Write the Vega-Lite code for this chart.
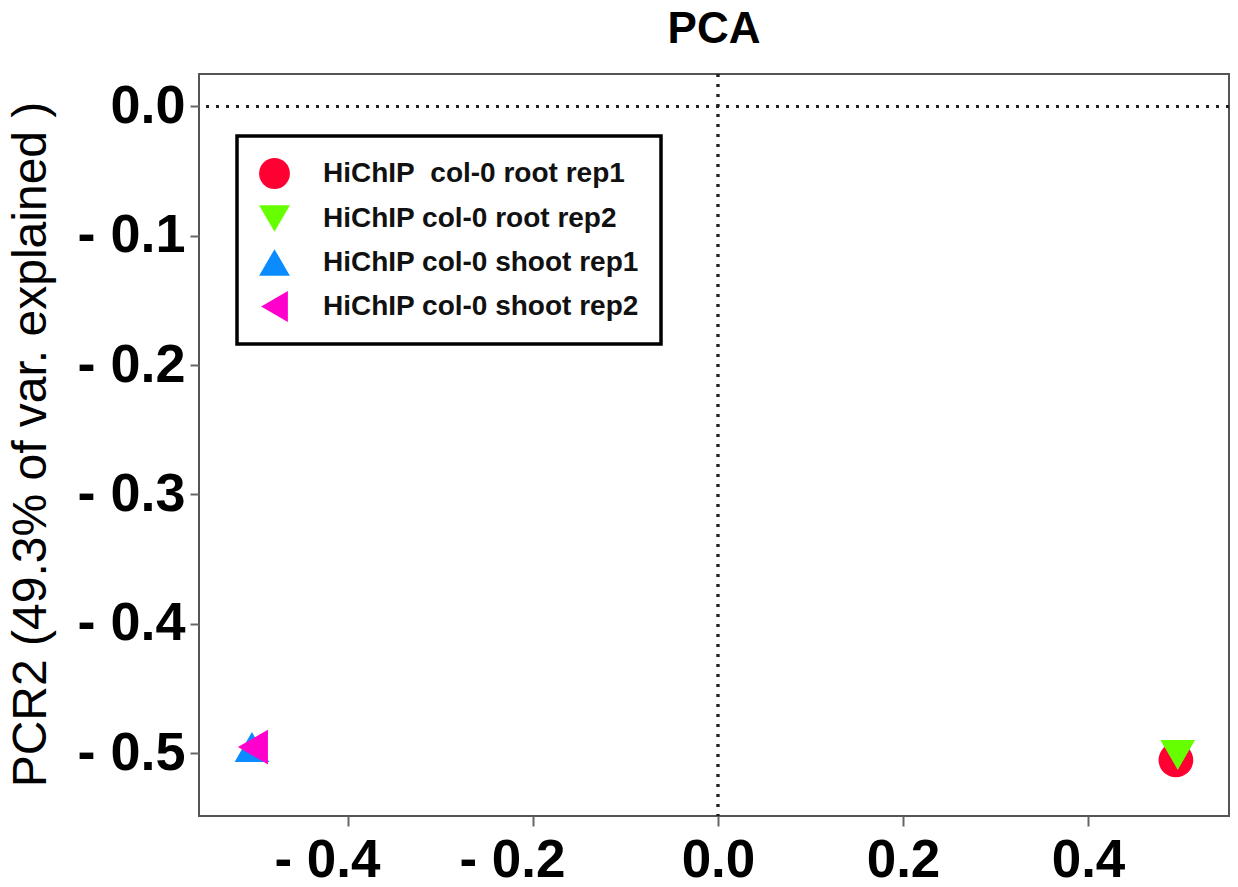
{
  "$schema": "https://vega.github.io/schema/vega-lite/v6.json",
  "autosize": "none",
  "width": 1030,
  "height": 742,
  "padding": {"left": 199, "top": 74, "right": 9, "bottom": 71},
  "background": "white",
  "title": {"text": "PCA", "fontSize": 44, "font": "Liberation Sans", "fontWeight": "bold", "anchor": "middle", "baseline": "alphabetic", "offset": 29, "dy": 43, "color": "black"},
  "data": {"values": [
    {"sample": "HiChIP\u00a0 col-0 root rep1", "PC1": 0.495, "PC2": -0.5054},
    {"sample": "HiChIP col-0 root rep2", "PC1": 0.497, "PC2": -0.5015},
    {"sample": "HiChIP col-0 shoot rep1", "PC1": -0.5038, "PC2": -0.4954},
    {"sample": "HiChIP col-0 shoot rep2", "PC1": -0.5027, "PC2": -0.4954}
  ]},
  "encoding": {
    "x": {"type": "quantitative", "scale": {"domain": [-0.561, 0.5524], "nice": false, "zero": false},
      "axis": {"title": null, "values": [-0.4, -0.2, 0, 0.2, 0.4], "grid": false, "domain": false,
        "labelExpr": "datum.value < 0 ? '- ' + format(-datum.value, '.1f') : format(datum.value, '.1f')",
        "labelFontSize": 53, "labelFontWeight": "bold", "labelFont": "Liberation Sans", "labelColor": "black",
        "labelOffset": {"condition": {"test": "datum.value < 0", "value": -21}, "value": 0},
        "tickSize": 10, "tickColor": "#666", "tickWidth": 2, "labelPadding": 8, "labelFlush": false, "labelOverlap": false}},
    "y": {"type": "quantitative", "scale": {"domain": [-0.5487, 0.0251], "nice": false, "zero": false},
      "axis": {"title": "PCR2 (49.3% of var. explained )", "values": [-0.5, -0.4, -0.3, -0.2, -0.1, 0], "grid": false, "domain": false,
        "labelExpr": "datum.value < 0 ? '- ' + format(-datum.value, '.1f') : format(datum.value, '.1f')",
        "labelFontSize": 54, "labelFontWeight": "bold", "labelFont": "Liberation Sans", "labelColor": "black",
        "tickSize": 9, "tickColor": "#666", "tickWidth": 2, "labelPadding": 5, "labelFlush": false, "labelOverlap": false,
        "titleFontSize": 48, "titleFont": "Liberation Sans", "titleFontWeight": "normal", "titleColor": "black",
        "titleX": -154, "titleY": 370, "titleBaseline": "alphabetic"}}
  },
  "layer": [
    {"mark": {"type": "rule", "strokeDash": [3, 7], "strokeWidth": 2.5, "color": "#222"}, "encoding": {"x": {"datum": 0}}},
    {"mark": {"type": "rule", "strokeDash": [3, 7], "strokeWidth": 2.5, "color": "#222"}, "encoding": {"y": {"datum": 0}}},
    {"mark": {"type": "point", "filled": true, "opacity": 1, "size": 1200, "strokeWidth": 0},
      "encoding": {
        "x": {"field": "PC1", "type": "quantitative"},
        "y": {"field": "PC2", "type": "quantitative"},
        "color": {"field": "sample", "type": "nominal",
          "scale": {"domain": ["HiChIP\u00a0 col-0 root rep1", "HiChIP col-0 root rep2", "HiChIP col-0 shoot rep1", "HiChIP col-0 shoot rep2"],
            "range": ["#FF0033", "#66FF00", "#0A8CFF", "#FF00CC"]},
          "legend": {"title": null, "orient": "none", "legendX": 38, "legendY": 62}},
        "shape": {"field": "sample", "type": "nominal",
          "scale": {"domain": ["HiChIP\u00a0 col-0 root rep1", "HiChIP col-0 root rep2", "HiChIP col-0 shoot rep1", "HiChIP col-0 shoot rep2"],
            "range": ["circle", "triangle-down", "triangle-up", "triangle-left"]},
          "legend": {"title": null, "orient": "none", "legendX": 38, "legendY": 62}}
      }}
  ],
  "config": {
    "font": "Liberation Sans",
    "view": {"stroke": "#555", "strokeWidth": 2},
    "legend": {"strokeColor": "black", "strokeWidth": 3.5, "fillColor": "white", "padding": 22,
      "labelFontSize": 28, "labelFontWeight": "bold", "labelFont": "Liberation Sans", "labelColor": "#111",
      "labelLimit": 500, "symbolSize": 950, "rowPadding": 14, "labelOffset": 33, "symbolStrokeWidth": 0, "symbolOpacity": 1}
  }
}
